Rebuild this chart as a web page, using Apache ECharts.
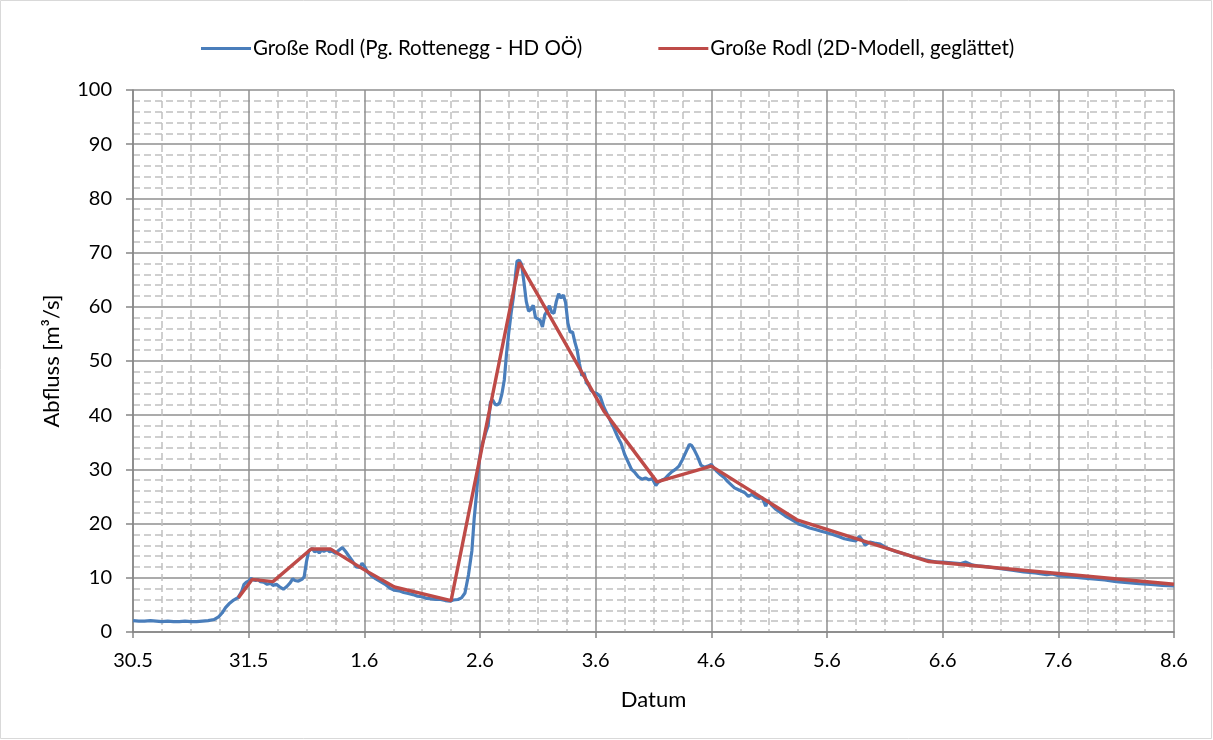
<!DOCTYPE html>
<html>
<head>
<meta charset="utf-8">
<title>Große Rodl - Abfluss</title>
<script src="https://cdn.jsdelivr.net/npm/echarts@6/dist/echarts.min.js"></script>
<style>
  html, body { margin: 0; padding: 0; background: #fff; }
  #chart { width: 1213px; height: 740px; }
</style>
</head>
<body>
<div id="chart"></div>
<script>
// Tagesbeschriftung der x-Achse (Tag 0 = 30.5.)
var dateLabels = ['30.5', '31.5', '1.6', '2.6', '3.6', '4.6', '5.6', '6.6', '7.6', '8.6'];

// Pegel Rottenegg (HD OÖ): Zeit in Tagen ab 30.5., Abfluss in m³/s
var obsDays = [
    0.00, 0.05, 0.10, 0.15, 0.20, 0.25, 0.30, 0.35, 0.40, 0.45, 0.50, 0.55, 0.60, 0.65, 0.70,
    0.74, 0.77, 0.80, 0.83, 0.87, 0.91, 0.94, 0.96, 0.98, 1.00, 1.02, 1.04, 1.06, 1.08, 1.10,
    1.13, 1.16, 1.19, 1.21, 1.24, 1.27, 1.30, 1.33, 1.36, 1.38, 1.40, 1.43, 1.46, 1.48, 1.50,
    1.52, 1.55, 1.57, 1.59, 1.61, 1.63, 1.65, 1.68, 1.70, 1.72, 1.75, 1.78, 1.81, 1.84, 1.87,
    1.90, 1.93, 1.96, 1.98, 2.00, 2.03, 2.06, 2.10, 2.14, 2.18, 2.22, 2.26, 2.30, 2.34, 2.38,
    2.42, 2.46, 2.50, 2.54, 2.58, 2.62, 2.66, 2.70, 2.74, 2.77, 2.81, 2.84, 2.87, 2.90, 2.93,
    2.95, 2.97, 2.99, 3.01, 3.03, 3.05, 3.07, 3.08, 3.09, 3.11, 3.13, 3.15, 3.17, 3.19, 3.21,
    3.23, 3.25, 3.27, 3.29, 3.31, 3.32, 3.34, 3.36, 3.38, 3.40, 3.42, 3.44, 3.46, 3.48, 3.50,
    3.52, 3.54, 3.56, 3.58, 3.60, 3.62, 3.64, 3.66, 3.68, 3.70, 3.72, 3.74, 3.76, 3.78, 3.80,
    3.82, 3.84, 3.86, 3.88, 3.90, 3.92, 3.94, 3.96, 3.98, 4.01, 4.04, 4.07, 4.10, 4.13, 4.16,
    4.19, 4.22, 4.25, 4.28, 4.31, 4.34, 4.37, 4.40, 4.43, 4.46, 4.49, 4.52, 4.54, 4.57, 4.60,
    4.63, 4.66, 4.69, 4.72, 4.75, 4.78, 4.81, 4.83, 4.85, 4.88, 4.91, 4.94, 4.97, 5.00, 5.02,
    5.05, 5.08, 5.11, 5.14, 5.17, 5.20, 5.23, 5.26, 5.29, 5.32, 5.35, 5.38, 5.41, 5.44, 5.47,
    5.49, 5.52, 5.56, 5.60, 5.64, 5.68, 5.72, 5.76, 5.80, 5.85, 5.90, 5.95, 6.00, 6.05, 6.10,
    6.15, 6.20, 6.25, 6.28, 6.31, 6.33, 6.37, 6.41, 6.46, 6.50, 6.55, 6.60, 6.65, 6.70, 6.75,
    6.80, 6.85, 6.90, 6.95, 7.00, 7.05, 7.10, 7.15, 7.20, 7.25, 7.30, 7.40, 7.50, 7.60, 7.70,
    7.80, 7.90, 7.95, 8.00, 8.10, 8.20, 8.30, 8.40, 8.50, 8.60, 8.70, 8.80, 8.90, 9.00
];
var obsFlow = [
    2.1, 2.0, 2.0, 2.1, 2.0, 1.9, 2.0, 1.9, 1.9, 2.0, 1.9, 1.9, 2.0, 2.1, 2.3,
    2.8, 3.5, 4.5, 5.2, 5.9, 6.4, 7.5, 8.8, 9.2, 9.4, 9.9, 9.6, 9.5, 9.7, 9.3,
    9.2, 8.8, 9.0, 8.6, 8.8, 8.3, 7.9, 8.4, 9.1, 9.8, 9.5, 9.4, 9.7, 10.2, 13.0,
    15.0, 15.4, 14.8, 15.0, 14.6, 15.1, 14.9, 15.2, 14.8, 14.9, 14.5, 15.1, 15.6, 14.8, 13.9,
    13.0, 12.0, 11.9, 12.7, 12.1, 11.0, 10.4, 9.8, 9.3, 8.8, 8.1, 7.7, 7.6, 7.3, 7.1,
    6.9, 6.6, 6.5, 6.2, 6.1, 6.0, 6.0, 5.8, 5.7, 5.9, 6.0, 6.3, 7.2, 10.5, 15.0,
    21.0, 25.5, 31.0, 34.0, 35.4, 36.8, 38.0, 40.0, 42.4, 42.8, 42.0, 41.9, 42.3, 44.0, 46.5,
    51.5, 55.5, 59.0, 62.0, 66.5, 68.4, 68.6, 67.8, 64.5, 61.0, 59.2, 59.5, 60.3, 58.0, 57.8,
    57.5, 56.3, 58.5, 59.2, 60.2, 59.0, 58.8, 61.0, 62.4, 61.6, 62.2, 60.8, 57.0, 55.3, 55.4,
    53.5, 52.0, 49.5, 47.3, 47.8, 46.0, 45.5, 44.6, 44.2, 44.0, 43.4, 41.5, 40.2, 38.8, 37.5,
    36.0, 34.8, 32.8, 31.4, 30.0, 29.4, 28.6, 28.2, 28.4, 28.1, 28.3, 27.0, 27.6, 28.0, 28.3,
    29.0, 29.6, 30.0, 30.6, 31.8, 33.2, 34.6, 34.4, 33.7, 32.4, 30.8, 30.4, 30.6, 30.9, 30.3,
    29.6, 29.0, 28.5, 27.8, 27.2, 26.6, 26.3, 26.0, 25.7, 25.0, 25.4, 24.9, 24.6, 24.8, 23.2,
    24.3, 23.4, 22.6, 22.0, 21.4, 20.9, 20.4, 19.9, 19.6, 19.2, 18.9, 18.6, 18.3, 18.0, 17.6,
    17.2, 17.0, 16.8, 17.7, 16.8, 16.0, 16.6, 16.4, 16.2, 15.7, 15.2, 14.8, 14.5, 14.2, 13.8,
    13.6, 13.3, 13.1, 12.9, 12.9, 12.8, 12.7, 12.6, 12.9, 12.4, 12.2, 12.0, 11.7, 11.4, 11.1,
    10.9, 10.6, 10.7, 10.4, 10.2, 10.0, 9.8, 9.6, 9.3, 9.1, 8.9, 8.8, 8.6, 8.5
];

// 2D-Modell (geglättet)
var modelDays = [0.91, 1.03, 1.21, 1.54, 1.71, 1.99, 2.26, 2.75, 3.34, 4.07, 4.53, 5.00, 5.74, 6.88, 9.00];
var modelFlow = [6.3, 9.7, 9.3, 15.3, 15.3, 11.6, 8.3, 5.8, 68.2, 40.8, 27.7, 30.6, 20.7, 13.0, 8.8];

var seriesNames = ['Große Rodl (Pg. Rottenegg - HD OÖ)', 'Große Rodl (2D-Modell, geglättet)'];

function zip(xs, ys) {
    var out = [];
    for (var i = 0; i < xs.length; i++) {
        out.push([xs[i], ys[i]]);
    }
    return out;
}

var font = "Lato, 'Open Sans', sans-serif";

var chart = echarts.init(document.getElementById('chart'));
var option = {
    backgroundColor: '#fff',
    animation: false,
    color: ['#4a7ebb', '#be4b48'],
    textStyle: { fontFamily: font },
    graphic: [{
        type: 'rect',
        shape: { x: 0.5, y: 0.5, width: 1211, height: 738 },
        style: { fill: 'none', stroke: '#d9d9d9', lineWidth: 1 },
        silent: true
    }],
    legend: {
        top: 33,
        left: 196,
        itemWidth: 50,
        itemHeight: 3,
        itemGap: 76,
        icon: 'rect',
        textStyle: { fontFamily: font, fontSize: 20.5, color: '#000', padding: [0, 0, 0, -3] },
        data: seriesNames
    },
    grid: {
        left: 133,
        right: 39,
        top: 90,
        bottom: 108,
        outerBoundsMode: 'none'
    },
    xAxis: {
        type: 'value',
        min: 0,
        max: 9,
        interval: 1,
        name: 'Datum',
        nameLocation: 'middle',
        nameGap: 57,
        nameTextStyle: { fontFamily: font, fontSize: 22, color: '#000' },
        axisLine: { lineStyle: { color: '#868686', width: 1.5 } },
        axisTick: { show: true, length: 6, lineStyle: { color: '#868686', width: 1.5 } },
        axisLabel: {
            fontFamily: font, fontSize: 20, color: '#000', margin: 19,
            formatter: function (v) { return dateLabels[Math.round(v)]; }
        },
        splitLine: { show: true, lineStyle: { color: '#8f8f8f', width: 1.5 } },
        minorTick: { show: false, splitNumber: 4 },
        minorSplitLine: { show: true, lineStyle: { color: '#c0c0c0', width: 1.5, type: [7, 4] } }
    },
    yAxis: {
        type: 'value',
        min: 0,
        max: 100,
        interval: 10,
        name: 'Abfluss [m³/s]',
        nameLocation: 'middle',
        nameGap: 70,
        nameTextStyle: { fontFamily: font, fontSize: 22, color: '#000' },
        axisLine: { show: true, lineStyle: { color: '#868686', width: 1.5 } },
        axisTick: { show: true, length: 7, lineStyle: { color: '#868686', width: 1.5 } },
        axisLabel: { fontFamily: font, fontSize: 20, color: '#000', margin: 21 },
        splitLine: { show: true, lineStyle: { color: '#8f8f8f', width: 1.5 } },
        minorTick: { show: false, splitNumber: 5 },
        minorSplitLine: { show: true, lineStyle: { color: '#c0c0c0', width: 1.5, type: [7, 4] } }
    },
    series: [
        {
            name: seriesNames[0],
            type: 'line',
            data: zip(obsDays, obsFlow),
            showSymbol: false,
            symbol: 'none',
            lineStyle: { width: 3.2, color: '#4a7ebb' },
            z: 3
        },
        {
            name: seriesNames[1],
            type: 'line',
            data: zip(modelDays, modelFlow),
            showSymbol: false,
            symbol: 'none',
            lineStyle: { width: 3.4, color: '#be4b48' },
            z: 4
        }
    ]
};
chart.setOption(option);
window.addEventListener('resize', function () {
    chart.resize();
});
</script>
</body>
</html>
